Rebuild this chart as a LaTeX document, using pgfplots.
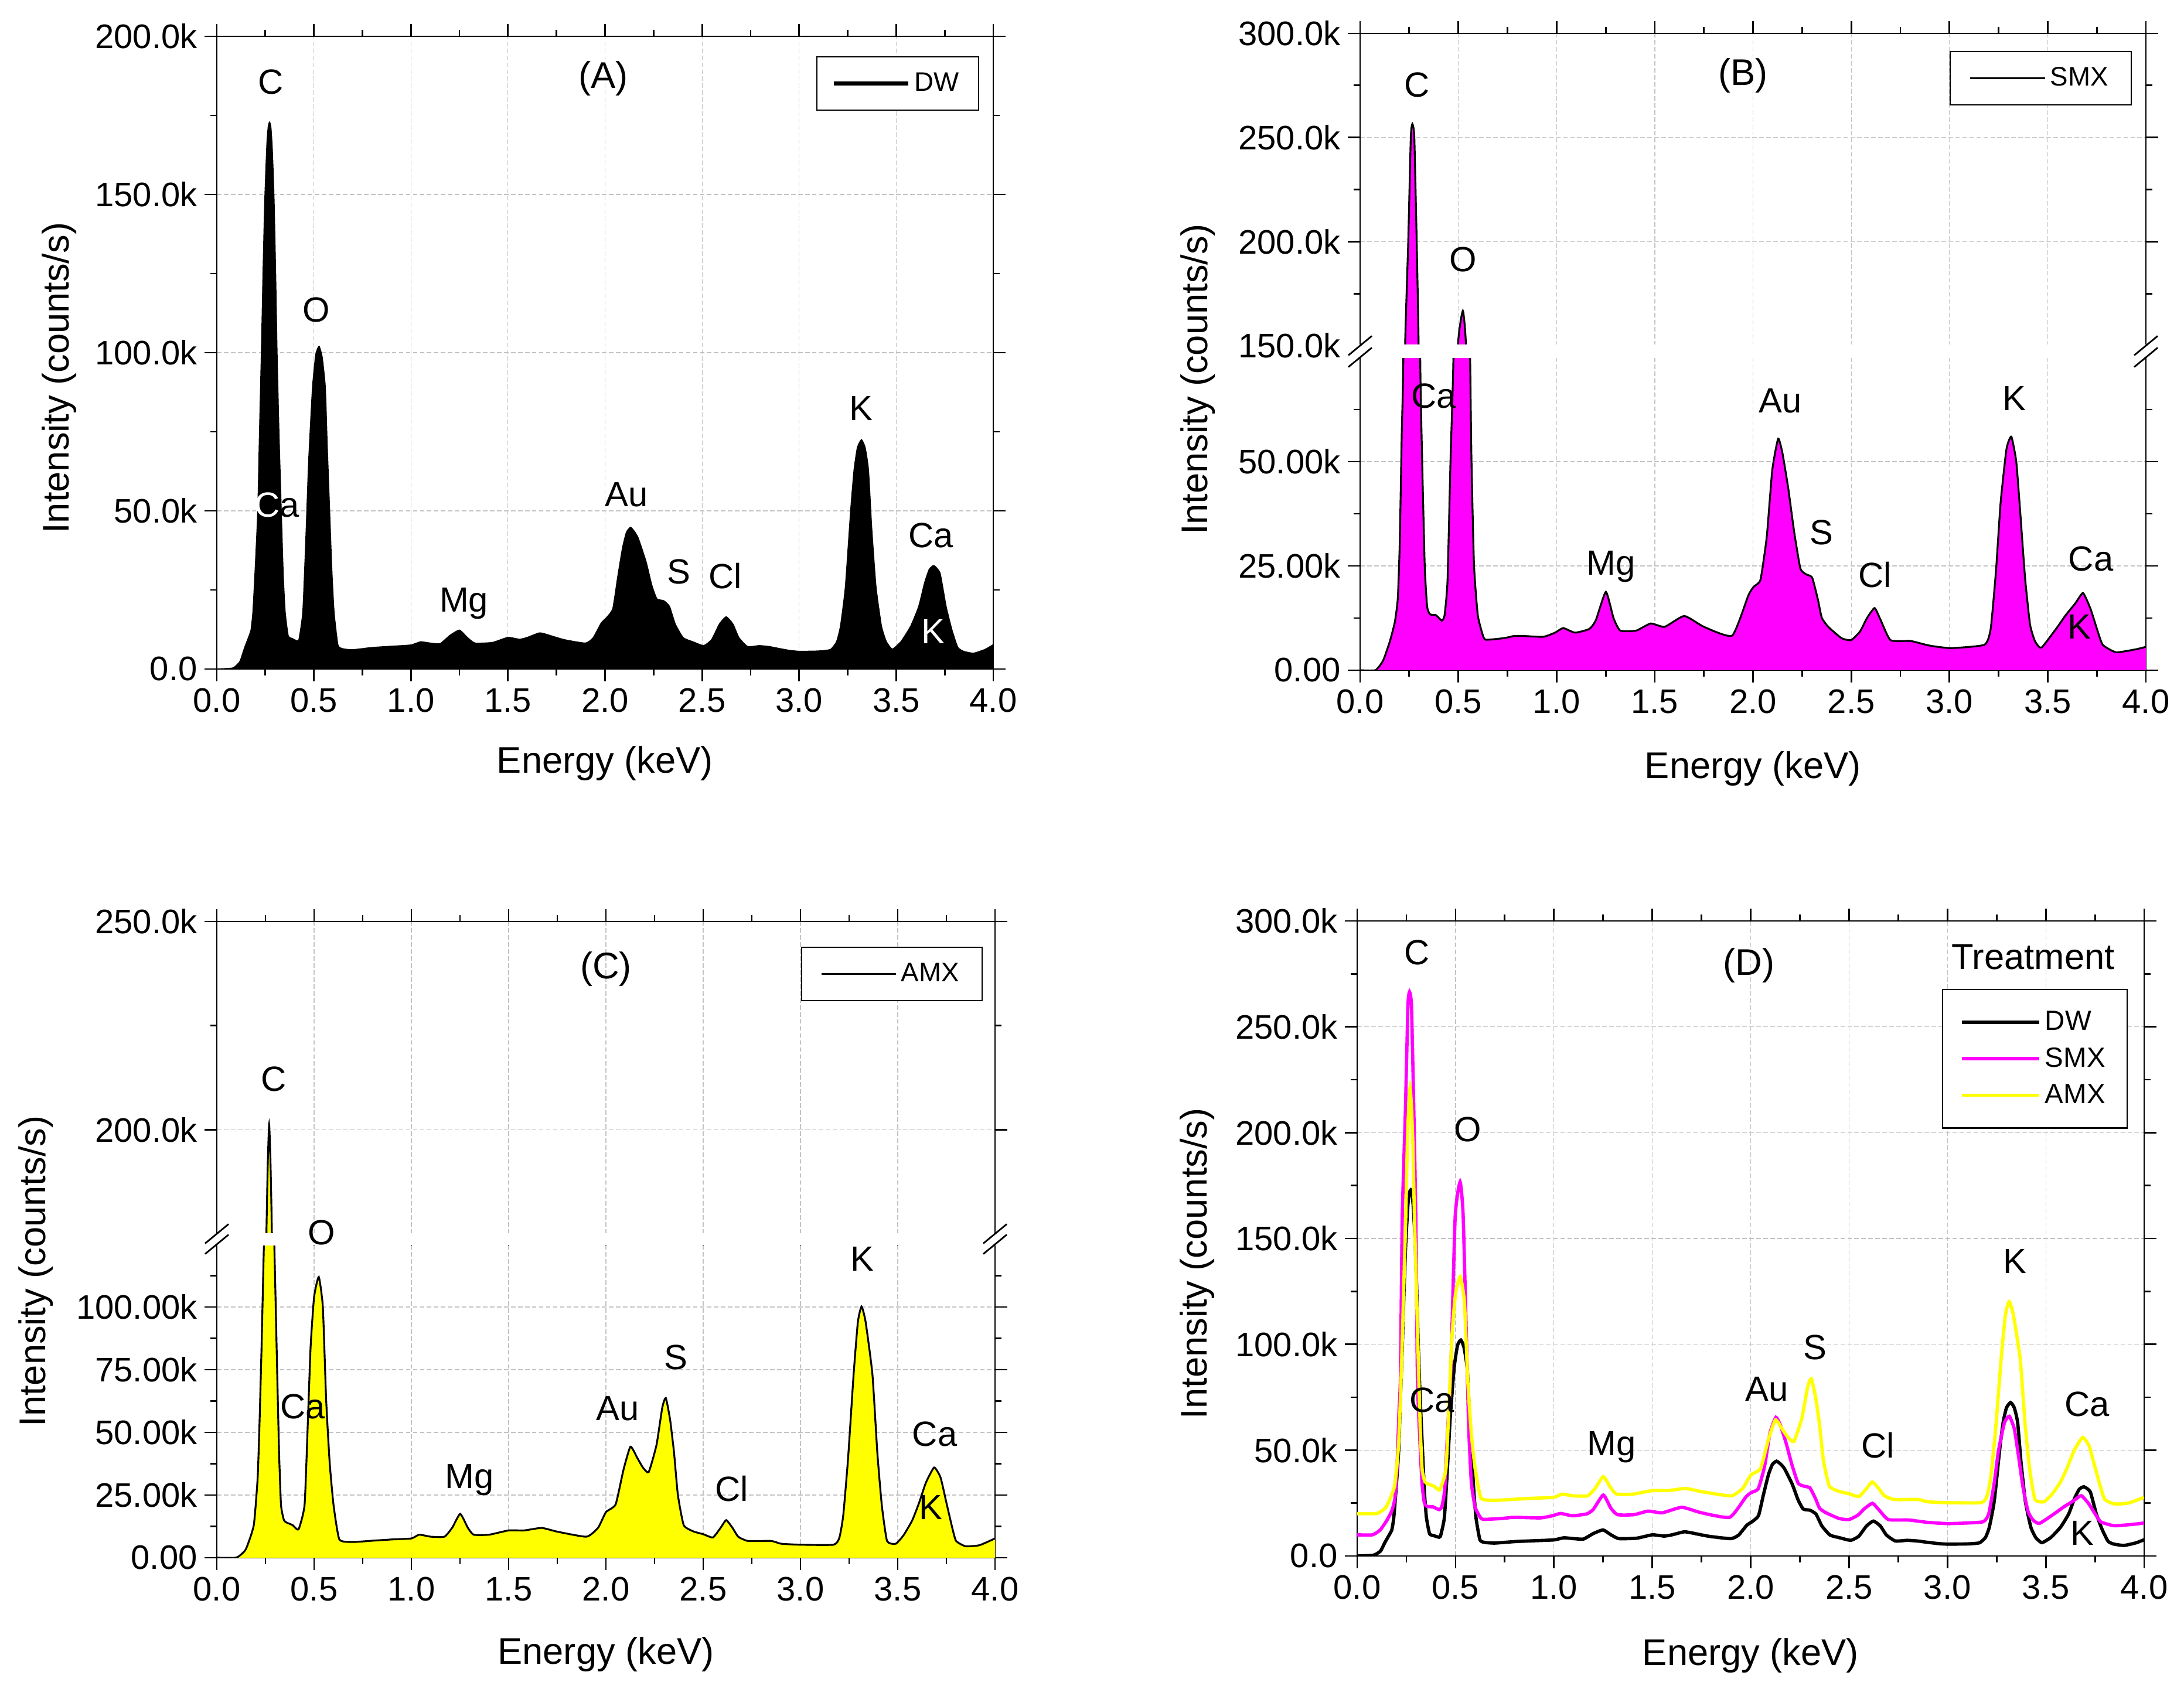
\documentclass[border=0pt]{standalone}
\usepackage{fontspec}
\setmainfont{Liberation Sans}
\usepackage{pgfplots}
\pgfplotsset{compat=1.18}
\usepackage{pgfplotstable}

\definecolor{mag}{RGB}{255,0,255}
\definecolor{yel}{RGB}{255,255,0}
\definecolor{gridc}{RGB}{195,195,195}

\newcommand\tickfont{\fontsize{16.5}{19}\selectfont}
\newcommand\labfont{\fontsize{18}{21}\selectfont}
\newcommand\pkfont{\fontsize{17}{20}\selectfont}
\newcommand\panfont{\fontsize{18}{21}\selectfont}
\newcommand\legfontA{\fontsize{13}{15}\selectfont}
\newcommand\legfontD{\fontsize{13.5}{16}\selectfont}

\tikzset{pk/.style={font=\pkfont, inner sep=0pt, text height=0.716em, text depth=0pt, anchor=center}}

% DW spectrum (keV, kcounts/s)
\pgfplotstableread{
E I
0.000 0.0
0.080 0.3
0.100 1.1
0.120 2.5
0.141 6.4
0.160 9.5
0.176 12.3
0.186 18.1
0.198 32
0.211 50.0
0.220 75
0.230 100.9
0.238 125
0.247 148.0
0.258 166
0.265 171.5
0.272 172.9
0.279 171
0.286 164
0.295 148
0.303 125
0.310 100.9
0.320 75
0.332 50.0
0.342 30
0.352 18.1
0.368 10.5
0.390 9.6
0.410 9.0
0.423 9.3
0.443 18.0
0.458 40
0.473 65.4
0.493 89.0
0.510 99.5
0.527 102.0
0.543 98.5
0.559 89.0
0.568 72
0.579 53.6
0.592 32
0.604 18.0
0.624 7.6
0.650 6.4
0.700 6.1
0.800 6.8
0.900 7.2
1.000 7.6
1.050 8.6
1.100 8.2
1.150 8.0
1.200 10.6
1.250 12.3
1.290 10.0
1.330 8.2
1.420 8.4
1.500 10.0
1.560 9.4
1.600 10.0
1.660 11.4
1.690 11.1
1.788 9.3
1.899 8.2
1.939 9.9
1.980 14.5
2.010 16.4
2.040 19.1
2.065 29.0
2.090 38.3
2.110 43.2
2.131 44.8
2.150 43.6
2.171 41.4
2.211 34.0
2.241 26.5
2.267 22.2
2.302 21.6
2.332 19.8
2.362 14.2
2.403 9.9
2.453 8.6
2.508 7.4
2.549 9.3
2.589 14.2
2.624 16.5
2.659 14.2
2.690 9.9
2.735 7.1
2.795 7.4
2.846 7.1
2.896 6.5
2.950 5.9
3.000 5.6
3.100 5.7
3.162 6.2
3.193 8.7
3.213 13.6
3.238 25.9
3.266 50.6
3.283 63.0
3.300 70.0
3.321 72.5
3.340 70.0
3.357 63.0
3.374 44.4
3.396 25.9
3.424 13.6
3.449 8.7
3.480 6.3
3.525 8.7
3.575 13.6
3.616 19.8
3.646 27.2
3.670 31.5
3.694 32.7
3.726 30.3
3.757 19.8
3.787 12.4
3.817 6.9
3.847 5.6
3.898 5.0
3.958 6.2
4.000 7.7
}\tabDW

% SMX spectrum
\pgfplotstableread{
E I
0.000 0
0.078 0
0.117 2.3
0.152 7.0
0.177 11.6
0.192 17.3
0.202 30.8
0.212 56.8
0.220 75
0.229 150
0.245 200
0.258 250
0.266 256.5
0.276 250
0.288 200
0.298 150
0.306 75
0.316 50
0.329 25
0.341 15.3
0.356 13.4
0.386 13.2
0.416 11.9
0.430 13.2
0.445 21.5
0.460 50
0.475 75
0.498 150
0.523 166.7
0.539 150
0.560 75
0.567 50
0.580 25
0.599 13.2
0.624 8.5
0.640 7.3
0.734 7.7
0.783 8.2
0.833 8.2
0.932 8.0
0.992 9.0
1.034 10.1
1.094 9.0
1.167 9.9
1.200 12.0
1.251 18.8
1.290 12.5
1.324 9.5
1.406 9.5
1.479 11.2
1.550 10.4
1.650 13.0
1.750 10.4
1.894 8.3
1.976 17.9
2.003 20.0
2.038 21.7
2.070 32
2.098 48.0
2.128 55.5
2.150 52
2.179 43.7
2.210 33
2.241 24.4
2.270 23
2.301 22.2
2.330 17
2.350 12.6
2.383 10.4
2.450 7.7
2.499 7.2
2.545 9.3
2.580 12.5
2.619 14.9
2.650 12
2.700 7.2
2.803 7.0
2.898 5.9
3.007 5.3
3.178 6.1
3.210 10
3.237 24
3.260 40
3.290 53
3.315 56
3.340 50
3.360 38
3.385 22
3.410 11
3.435 7
3.468 5.4
3.550 10.4
3.590 13.1
3.640 16
3.680 18.5
3.718 14.7
3.750 10
3.780 6.1
3.848 4.3
3.948 5.0
4.000 5.6
}\tabSMX

% AMX spectrum
\pgfplotstableread{
E I
0.000 0
0.096 0
0.120 1.0
0.150 3.5
0.190 13
0.210 32
0.220 55
0.230 84
0.240 118
0.247 140
0.255 175
0.262 192
0.269 201.3
0.276 192
0.283 175
0.291 140
0.300 110
0.310 75
0.320 42
0.330 21
0.345 15
0.360 14
0.390 13
0.420 11.3
0.451 21
0.466 50
0.482 84
0.500 104
0.524 112
0.545 100
0.562 63
0.580 38
0.600 21
0.630 7.3
0.700 6.3
0.800 6.8
0.900 7.3
1.000 7.7
1.040 9.2
1.100 8.4
1.170 8.4
1.210 12
1.251 17.5
1.290 12
1.320 9.2
1.400 9.2
1.500 10.9
1.580 10.9
1.670 11.9
1.750 10.4
1.900 8.4
1.960 12
2.000 18.2
2.050 21.3
2.090 35
2.126 44.3
2.160 40
2.190 36
2.220 34.2
2.260 45
2.290 60
2.308 63.7
2.330 55
2.350 42
2.370 25
2.400 13
2.450 10.5
2.500 9.4
2.550 8.1
2.590 12
2.618 15
2.650 12
2.680 8.4
2.730 6.7
2.850 6.7
2.900 5.6
3.000 5.2
3.170 5.2
3.200 8
3.220 17
3.245 40
3.273 73
3.295 94
3.314 100.2
3.335 94
3.370 73
3.395 42
3.418 21
3.445 6.7
3.490 5.6
3.530 9
3.575 15
3.610 22
3.645 30
3.687 36
3.720 32
3.750 22
3.780 12
3.800 6.7
3.848 4.6
3.920 5.0
4.000 7.7
}\tabAMX

\pgfplotsset{
  eds/.style={
    scale only axis,
    xmin=0, xmax=4,
    xtick={0,0.5,1,1.5,2,2.5,3,3.5,4},
    xticklabels={0.0,0.5,1.0,1.5,2.0,2.5,3.0,3.5,4.0},
    minor xtick={0.25,0.75,1.25,1.75,2.25,2.75,3.25,3.75},
    tick align=outside,
    major tick length=0.21cm,
    minor tick length=0.11cm,
    tick style={black, line width=0.8pt},
    axis line style={black, line width=0.8pt},
    xmajorgrids, ymajorgrids,
    major grid style={draw=gridc, line width=0.35pt, dash pattern=on 2.2pt off 1.2pt},
    tick label style={font=\tickfont},
    label style={font=\labfont},
    clip mode=individual,
    legend cell align=left,
  },
  spec/.style={smooth, tension=0.3},
}

\begin{document}
\begin{tikzpicture}
\useasboundingbox (0,0) rectangle (37.27,28.94);

% ---------------- (A) ----------------
\begin{axis}[eds, at={(3.70cm,17.52cm)}, width=13.25cm, height=10.80cm,
  ymin=0, ymax=200, ytick={0,50,100,150,200},
  yticklabels={0.0,50.0k,100.0k,150.0k,200.0k}, minor ytick={25,75,125,175},
  xlabel={Energy (keV)}, ylabel={Intensity (counts/s)},
  xlabel style={at={(axis description cs:0.5,-0.149)}, anchor=center},
  ylabel style={at={(axis description cs:-0.203,0.46)}, anchor=center},
  legend style={at={(0.982,0.9685)}, anchor=north east, draw=black, line width=0.6pt,
    font=\legfontA, inner xsep=0.26cm, inner ysep=0.2cm},
  legend image code/.code={\draw[#1] (0cm,0cm) -- (1.27cm,0cm);}]
\addplot[spec, fill=black, draw=none, forget plot] table[x=E,y=I]{\tabDW} \closedcycle;
\addplot[spec, black, line width=0.5pt, forget plot] table[x=E,y=I]{\tabDW};
\addlegendimage{black, line width=2pt}
\addlegendentry{DW}
\node[pk] at (axis cs:0.277,184) {C};
\node[pk] at (axis cs:0.512,112) {O};
\node[pk] at (axis cs:0.311,50.4) {\textcolor{white}{C}a};
\node[pk] at (axis cs:1.273,20.3) {Mg};
\node[pk] at (axis cs:2.11,53.7) {Au};
\node[pk] at (axis cs:2.38,29.2) {S};
\node[pk] at (axis cs:2.62,27.8) {Cl};
\node[pk] at (axis cs:3.32,81) {K};
\node[pk] at (axis cs:3.68,40.8) {Ca};
\node[pk, text=white] at (axis cs:3.69,10.4) {K};
\node[pk, font=\panfont] at (axis cs:1.99,186) {(A)};
\end{axis}

% ---------------- (B) lower ----------------
\begin{axis}[eds, at={(23.21cm,17.50cm)}, width=13.41cm, height=5.34cm,
  ymin=0, ymax=75, ytick={0,25,50}, yticklabels={0.00,25.00k,50.00k},
  minor ytick={12.5,37.5,62.5},
  xlabel={Energy (keV)}, ylabel={Intensity (counts/s)},
  xlabel style={at={(axis description cs:0.5,-0.3146)}, anchor=center},
  ylabel style={at={(axis description cs:-0.2066,0.93)}, anchor=center}]
\addplot[spec, fill=mag, draw=none] table[x=E,y=I]{\tabSMX} \closedcycle;
\addplot[spec, black, line width=0.9pt] table[x=E,y=I]{\tabSMX};
\node[pk] at (axis cs:0.374,64.6) {Ca};
\node[pk] at (axis cs:1.278,24.6) {Mg};
\node[pk] at (axis cs:2.14,63.5) {Au};
\node[pk] at (axis cs:2.35,31.9) {S};
\node[pk] at (axis cs:2.62,21.7) {Cl};
\node[pk] at (axis cs:3.33,64) {K};
\node[pk] at (axis cs:3.72,25.6) {Ca};
\node[pk] at (axis cs:3.66,9.3) {K};
\end{axis}

% ---------------- (B) upper ----------------
\begin{axis}[eds, at={(23.21cm,23.04cm)}, width=13.41cm, height=5.33cm,
  ymin=150, ymax=300, ytick={150,200,250,300},
  yticklabels={150.0k,200.0k,250.0k,300.0k}, minor ytick={175,225,275},
  xticklabels={},
  legend style={at={(0.982,0.944)}, anchor=north east, draw=black, line width=0.6pt,
    font=\legfontA, inner xsep=0.32cm, inner ysep=0.2cm},
  legend image code/.code={\draw[#1] (0cm,0cm) -- (1.28cm,0cm);}]
\addplot[spec, fill=mag, draw=none, forget plot] table[x=E,y=I]{\tabSMX} \closedcycle;
\addplot[spec, black, line width=0.9pt, forget plot] table[x=E,y=I]{\tabSMX};
\addlegendimage{black, line width=1pt}
\addlegendentry{SMX}
\node[pk] at (axis cs:0.288,273) {C};
\node[pk] at (axis cs:0.524,189) {O};
\node[pk, font=\panfont] at (axis cs:1.95,278.5) {(B)};
\end{axis}

% ---------------- (C) lower ----------------
\begin{axis}[eds, at={(3.70cm,2.35cm)}, width=13.28cm, height=5.35cm,
  ymin=0, ymax=125, ytick={0,25,50,75,100},
  yticklabels={0.00,25.00k,50.00k,75.00k,100.00k},
  minor ytick={12.5,37.5,62.5,87.5,112.5},
  xlabel={Energy (keV)}, ylabel={Intensity (counts/s)},
  xlabel style={at={(axis description cs:0.5,-0.308)}, anchor=center},
  ylabel style={at={(axis description cs:-0.2327,0.914)}, anchor=center}]
\addplot[spec, fill=yel, draw=none] table[x=E,y=I]{\tabAMX} \closedcycle;
\addplot[spec, black, line width=0.9pt] table[x=E,y=I]{\tabAMX};
\node[pk] at (axis cs:0.441,58.5) {Ca};
\node[pk] at (axis cs:1.299,30.7) {Mg};
\node[pk] at (axis cs:2.06,57.8) {Au};
\node[pk] at (axis cs:2.36,78) {S};
\node[pk] at (axis cs:2.646,25.5) {Cl};
\node[pk] at (axis cs:3.318,117.3) {K};
\node[pk] at (axis cs:3.69,47.4) {Ca};
\node[pk] at (axis cs:3.67,18.2) {K};
\coordinate (oC) at (axis cs:0.537,127.8);
\end{axis}

% ---------------- (C) upper ----------------
\begin{axis}[eds, at={(3.70cm,7.88cm)}, width=13.28cm, height=5.33cm,
  ymin=175, ymax=250, ytick={200,250},
  yticklabels={200.0k,250.0k}, minor ytick={225},
  xticklabels={},
  legend style={at={(0.984,0.919)}, anchor=north east, draw=black, line width=0.6pt,
    font=\legfontA, inner xsep=0.32cm, inner ysep=0.2cm},
  legend image code/.code={\draw[#1] (0cm,0cm) -- (1.27cm,0cm);}]
\addplot[spec, fill=yel, draw=none, forget plot] table[x=E,y=I]{\tabAMX} \closedcycle;
\addplot[spec, black, line width=0.9pt, forget plot] table[x=E,y=I]{\tabAMX};
\addlegendimage{black, line width=1pt}
\addlegendentry{AMX}
\node[pk] at (axis cs:0.293,211) {C};
\node[pk, font=\panfont] at (axis cs:2.0,238) {(C)};
\end{axis}

% ---------------- (D) ----------------
\begin{axis}[eds, at={(23.16cm,2.38cm)}, width=13.43cm, height=10.84cm,
  ymin=0, ymax=300, ytick={0,50,100,150,200,250,300},
  yticklabels={0.0,50.0k,100.0k,150.0k,200.0k,250.0k,300.0k},
  minor ytick={25,75,125,175,225,275},
  xlabel={Energy (keV)}, ylabel={Intensity (counts/s)},
  xlabel style={at={(axis description cs:0.5,-0.157)}, anchor=center},
  ylabel style={at={(axis description cs:-0.2030,0.4605)}, anchor=center},
  legend style={at={(0.979,0.893)}, anchor=north east, draw=black, line width=0.6pt,
    font=\legfontD, inner xsep=0.30cm, inner ysep=0.3cm, row sep=0.1cm},
  legend image code/.code={\draw[#1] (0cm,0cm) -- (1.32cm,0cm);}]
\addplot[spec, black, line width=1.6pt] table[x=E,y=I]{\tabDW};
\addlegendentry{DW}
\addplot[spec, mag, line width=1.6pt] table[x=E, y expr=\thisrow{I}+10]{\tabSMX};
\addlegendentry{SMX}
\addplot[spec, yel, line width=1.6pt] table[x=E, y expr=\thisrow{I}+20]{\tabAMX};
\addlegendentry{AMX}
\node[pk] at (axis cs:0.303,282.8) {C};
\node[pk] at (axis cs:0.561,199.4) {O};
\node[pk] at (axis cs:0.38,71.4) {Ca};
\node[pk] at (axis cs:1.294,51) {Mg};
\node[pk] at (axis cs:2.082,76.8) {Au};
\node[pk] at (axis cs:2.326,96.4) {S};
\node[pk] at (axis cs:2.647,49.8) {Cl};
\node[pk] at (axis cs:3.344,136.9) {K};
\node[pk] at (axis cs:3.71,69.4) {Ca};
\node[pk] at (axis cs:3.686,8.6) {K};
\node[pk, font=\panfont] at (axis cs:1.991,278) {(D)};
\node[pk, font=\fontsize{17.5}{20}\selectfont] at (axis cs:3.436,280.6) {Treatment};
\end{axis}

% break gaps
\fill[white] (22.98,22.825) rectangle (36.85,23.055);
\fill[white] (3.47,7.685) rectangle (17.21,7.895);
\foreach \xx in {23.21,36.62}{
  \draw[line width=0.8pt] (\xx-0.2,22.84-0.165) -- (\xx+0.2,22.84+0.165);
  \draw[line width=0.8pt] (\xx-0.2,23.04-0.165) -- (\xx+0.2,23.04+0.165);
}
\foreach \xx in {3.70,16.98}{
  \draw[line width=0.8pt] (\xx-0.2,7.70-0.165) -- (\xx+0.2,7.70+0.165);
  \draw[line width=0.8pt] (\xx-0.2,7.88-0.165) -- (\xx+0.2,7.88+0.165);
}
\node[pk] at (oC) {O};
\end{tikzpicture}
\end{document}
